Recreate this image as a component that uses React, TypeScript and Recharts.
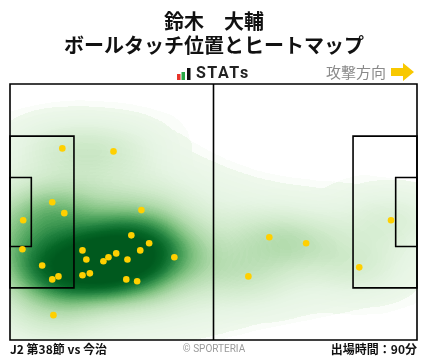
import React from "react";
import { ScatterChart, Scatter, XAxis, YAxis, ReferenceArea, ReferenceLine } from "recharts";

// ボールタッチ位置（メートル、左上基準）
const touchX = [
  13.5, 26.7, 10.9, 14.0, 33.9, 3.4, 3.2, 31.3, 35.9, 18.7,
  33.6, 19.7, 25.4, 27.4, 24.1, 30.3, 42.4, 8.3, 10.9, 12.5,
  18.7, 20.6, 30.0, 32.8, 11.2, 66.9, 76.4, 61.5, 98.3, 90.1,
];
const touchY = [
  17.1, 17.9, 31.4, 34.3, 33.5, 36.2, 43.9, 40.2, 42.3, 44.2,
  44.2, 46.6, 46.0, 45.0, 47.1, 46.6, 46.0, 48.2, 51.9, 51.1,
  50.8, 50.3, 51.9, 52.4, 61.4, 40.7, 42.3, 51.1, 36.2, 48.7,
];
const touches = touchX.map((x, i) => ({ x, y: touchY[i] }));

// ピッチ寸法
const LENGTH = 105;
const WIDTH = 68;
const BOX_DEPTH = 16.5;
const BOX_HALF = 20.16;
const GOAL_DEPTH = 5.5;
const GOAL_HALF = 9.16;
const MID_Y = WIDTH / 2;

const W = 428;
const H = 359;
const MARGIN = { top: 84, right: 11, bottom: 19, left: 10 };

const line = { fill: "none", stroke: "#000", strokeWidth: 1.6, fillOpacity: 0 };

const HeatBlob = (props: any) => (
  <ellipse cx={props.cx} cy={props.cy} rx={14} ry={9} fill="#000" fillOpacity={0.55} />
);

const Dot = (props: any) => <circle cx={props.cx} cy={props.cy} r={3.3} fill="#ffd000" />;

export default function App() {
  const font = '"Noto Sans CJK JP", "Noto Sans", sans-serif';
  return (
    <div style={{ position: "relative", width: W, height: H, background: "#fff", fontFamily: font }}>
      <style>{`body{margin:0} .heat-layer{filter:url(#heat);mix-blend-mode:multiply}`}</style>
      <svg width={0} height={0} style={{ position: "absolute" }}>
        <defs>
          <filter
            id="heat"
            filterUnits="userSpaceOnUse"
            x={MARGIN.left}
            y={MARGIN.top}
            width={W - MARGIN.left - MARGIN.right}
            height={H - MARGIN.top - MARGIN.bottom}
            colorInterpolationFilters="sRGB"
          >
            <feGaussianBlur in="SourceAlpha" stdDeviation="32 19" result="near" />
            <feGaussianBlur in="SourceAlpha" stdDeviation="80 40" result="far" />
            <feComposite in="near" in2="far" operator="arithmetic" k1="0" k2="1" k3="1" k4="0" result="dens" />
            <feColorMatrix
              in="dens"
              type="matrix"
              values="0 0 0 2.4 0  0 0 0 2.4 0  0 0 0 2.4 0  0 0 0 0 1"
              result="lvl"
            />
            <feComponentTransfer in="lvl" result="col">
              <feFuncR type="table" tableValues="0.95 0.90 0.82 0.70 0.52 0.30 0.12 0.02 0" />
              <feFuncG type="table" tableValues="0.98 0.96 0.92 0.86 0.77 0.64 0.50 0.40 0.35" />
              <feFuncB type="table" tableValues="0.94 0.89 0.80 0.68 0.52 0.36 0.24 0.15 0.12" />
            </feComponentTransfer>
            <feComponentTransfer in="dens" result="mask">
              <feFuncA type="linear" slope="160" intercept="-2.2" />
            </feComponentTransfer>
            <feComposite in="col" in2="mask" operator="in" />
          </filter>
        </defs>
      </svg>

      <div style={{ position: "absolute", left: 0, top: 0 }}>
        <ScatterChart width={W} height={H} margin={MARGIN}>
          <XAxis type="number" dataKey="x" domain={[0, LENGTH]} hide />
          <YAxis type="number" dataKey="y" domain={[0, WIDTH]} reversed hide />
          <Scatter data={touches} className="heat-layer" shape={HeatBlob} isAnimationActive={false} />
          <ReferenceArea x1={0} x2={LENGTH} y1={0} y2={WIDTH} {...line} />
          <ReferenceLine x={LENGTH / 2} stroke="#000" strokeWidth={1.6} />
          <ReferenceArea x1={0} x2={BOX_DEPTH} y1={MID_Y - BOX_HALF} y2={MID_Y + BOX_HALF} {...line} />
          <ReferenceArea x1={0} x2={GOAL_DEPTH} y1={MID_Y - GOAL_HALF} y2={MID_Y + GOAL_HALF} {...line} />
          <ReferenceArea x1={LENGTH - BOX_DEPTH} x2={LENGTH} y1={MID_Y - BOX_HALF} y2={MID_Y + BOX_HALF} {...line} />
          <ReferenceArea x1={LENGTH - GOAL_DEPTH} x2={LENGTH} y1={MID_Y - GOAL_HALF} y2={MID_Y + GOAL_HALF} {...line} />
          <Scatter data={touches} shape={Dot} isAnimationActive={false} />
        </ScatterChart>
      </div>

      <div style={{ position: "absolute", left: 0, width: W, top: 11, textAlign: "center", fontSize: 20, fontWeight: 700, lineHeight: "20px", color: "#111" }}>
        鈴木　大輔
      </div>
      <div style={{ position: "absolute", left: 0, width: W, top: 35, textAlign: "center", fontSize: 20, fontWeight: 700, lineHeight: "20px", color: "#111" }}>
        ボールタッチ位置とヒートマップ
      </div>

      <svg width={16} height={14} style={{ position: "absolute", left: 176, top: 67 }}>
        <rect x={1} y={7} width={3.5} height={6} fill="#e8332a" />
        <rect x={5.5} y={5} width={3.5} height={8} fill="#27a844" />
        <rect x={11} y={1} width={3.5} height={12} fill="#111" />
      </svg>
      <div style={{ position: "absolute", left: 196, top: 64, fontSize: 16, fontWeight: 700, lineHeight: "18px", letterSpacing: 1.5, color: "#222", fontFamily: "Roboto, sans-serif" }}>
        STATs
      </div>
      <div style={{ position: "absolute", right: W - 386, top: 63, fontSize: 15, lineHeight: "18px", color: "#8a8a8a" }}>
        攻撃方向
      </div>
      <svg width={26} height={20} style={{ position: "absolute", left: 390, top: 62 }}>
        <polygon points="1,6 13,6 13,1 24,10 13,19 13,14 1,14" fill="#f8c800" />
      </svg>

      <div style={{ position: "absolute", left: 10, top: 341, fontSize: 12, fontWeight: 700, lineHeight: "16px", color: "#111" }}>
        J2 第38節 vs 今治
      </div>
      <div style={{ position: "absolute", left: 0, width: W, top: 342, textAlign: "center", fontSize: 10, lineHeight: "14px", color: "#9a9a9a", fontFamily: "Roboto, sans-serif" }}>
        © SPORTERIA
      </div>
      <div style={{ position: "absolute", right: W - 417, top: 341, fontSize: 12, fontWeight: 700, lineHeight: "16px", color: "#111" }}>
        出場時間：90分
      </div>
    </div>
  );
}
